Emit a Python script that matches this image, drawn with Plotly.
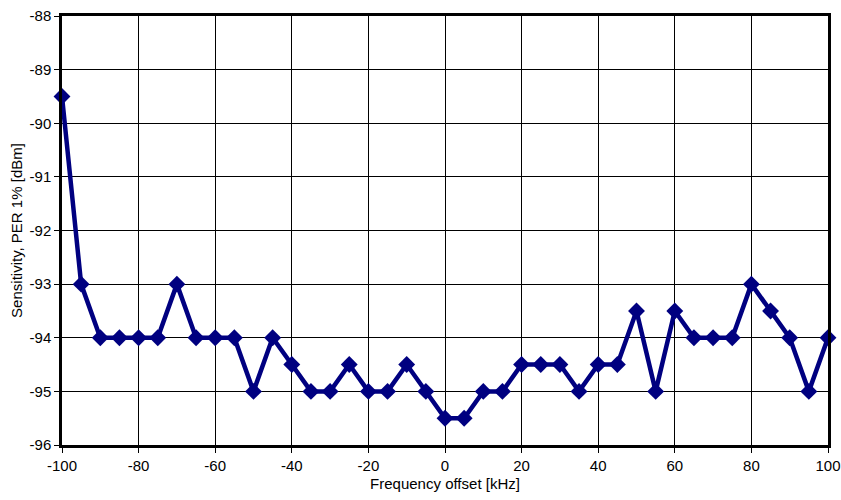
import plotly.graph_objects as go

# Frequency offset in kHz and measured sensitivity in dBm
freq_offset = [-100, -95, -90, -85, -80, -75, -70, -65, -60, -55, -50, -45, -40,
               -35, -30, -25, -20, -15, -10, -5, 0, 5, 10, 15, 20, 25, 30, 35,
               40, 45, 50, 55, 60, 65, 70, 75, 80, 85, 90, 95, 100]
sensitivity = [-89.5, -93, -94, -94, -94, -94, -93, -94, -94, -94, -95, -94, -94.5,
               -95, -95, -94.5, -95, -95, -94.5, -95, -95.5, -95.5, -95, -95, -94.5,
               -94.5, -94.5, -95, -94.5, -94.5, -93.5, -95, -93.5, -94, -94, -94,
               -93, -93.5, -94, -95, -94]

x_ticks = list(range(-100, 101, 20))
y_ticks = list(range(-96, -87, 1))

navy = "#000080"
font_family = "Liberation Sans, Arial, sans-serif"

fig = go.Figure()
fig.add_trace(go.Scatter(
    x=freq_offset, y=sensitivity, mode="lines+markers",
    line=dict(color=navy, width=4.5),
    marker=dict(symbol="diamond", size=13, color=navy),
    cliponaxis=False, showlegend=False,
))

axis_common = dict(
    showline=True, linecolor="black", linewidth=2.5, mirror=True,
    showgrid=True, gridcolor="black", gridwidth=1,
    ticks="outside", ticklen=5, tickcolor="black", tickwidth=1,
    zeroline=False, automargin=False,
    tickfont=dict(family=font_family, size=15, color="black"),
)

fig.update_xaxes(
    range=[-100, 100], tickvals=x_ticks, ticktext=[str(v) for v in x_ticks],
    title=dict(text="Frequency offset [kHz]", standoff=6,
               font=dict(family=font_family, size=15, color="black")),
    **axis_common,
)
fig.update_yaxes(
    range=[-96, -88], tickvals=y_ticks, ticktext=[str(v) for v in y_ticks],
    title=dict(text="Sensitivity, PER 1% [dBm]", standoff=4,
               font=dict(family=font_family, size=15, color="black")),
    **axis_common,
)

fig.update_layout(
    width=841, height=500,
    margin=dict(l=62, r=13, t=16, b=55),
    paper_bgcolor="white", plot_bgcolor="white",
)

fig.write_html("out.html")
